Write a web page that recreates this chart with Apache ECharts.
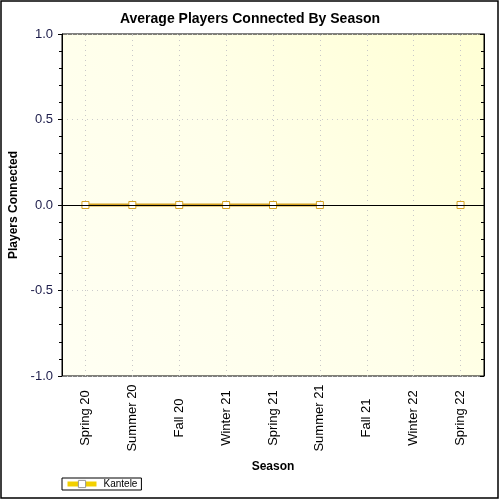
<!DOCTYPE html>
<html>
<head>
<meta charset="utf-8">
<script src="https://cdn.jsdelivr.net/npm/echarts@6/dist/echarts.min.js"></script>
<style>html,body{margin:0;padding:0;background:#fff}#c{width:500px;height:500px}</style>
</head>
<body>
<div id="c"></div>
<script>
const seasons = ['Spring 20','Summer 20','Fall 20','Winter 21','Spring 21','Summer 21','Fall 21','Winter 22','Spring 22'];
const kantele = [0, 0, 0, 0, 0, 0, null, null, 0];
const yTicks = {min: -1, max: 1, interval: 0.5};

const chart = echarts.init(document.getElementById('c'), null, {renderer: 'canvas'});
const font = 'Arial, "Liberation Sans", sans-serif';
const gold = '#D4A020';

chart.setOption({
  animation: false,
  backgroundColor: '#fff',
  title: {
    text: 'Average Players Connected By Season',
    left: 'center', top: 7,
    textStyle: {fontFamily: font, fontSize: 14, fontWeight: 'bold', color: '#000'}
  },
  graphic: [{
    type: 'rect', silent: true, z: 100,
    shape: {x: 1, y: 1, width: 497, height: 497},
    style: {fill: 'none', stroke: '#000', lineWidth: 1.5}
  }],
  legend: {
    data: [{name: 'Kantele', lineStyle: {color: '#F2D000', width: 5}, itemStyle: {color: '#fff', borderColor: '#999', borderWidth: 1}}],
    left: 62, top: 478,
    orient: 'horizontal',
    borderColor: '#000', borderWidth: 1, borderRadius: 0,
    padding: [1, 4, 1, 3],
    itemWidth: 29, itemHeight: 9, itemGap: 6,
    textStyle: {fontFamily: font, fontSize: 10, color: '#000', padding: [0, 0, 0, 2]}
  },
  grid: {
    left: 62, right: 16, top: 34, bottom: 124,
    outerBoundsMode: 'none',
    containLabel: false,
    show: true, borderColor: '#000', borderWidth: 1,
    backgroundColor: new echarts.graphic.LinearGradient(0, 1, 1, 0, [
      {offset: 0, color: '#FFFFF3'},
      {offset: 0.5, color: '#FFFFEA'},
      {offset: 1, color: '#FFFFD4'}
    ])
  },
  xAxis: {
    type: 'category',
    data: seasons,
    boundaryGap: true,
    name: 'Season',
    nameLocation: 'middle',
    nameGap: 85,
    nameTextStyle: {fontFamily: font, fontSize: 12, fontWeight: 'bold', color: '#000'},
    axisLine: {lineStyle: {color: '#000', width: 1}},
    axisTick: {alignWithLabel: true, length: 4, lineStyle: {color: '#000'}},
    axisLabel: {
      rotate: 90, align: 'center', verticalAlign: 'middle', margin: 42,
      fontFamily: font, fontSize: 13, color: '#000', interval: 0
    },
    splitLine: {show: false}
  },
  yAxis: [{
    type: 'value',
    min: yTicks.min, max: yTicks.max, interval: yTicks.interval,
    name: 'Players Connected',
    nameLocation: 'middle',
    nameGap: 40,
    nameRotate: 90,
    nameTextStyle: {fontFamily: font, fontSize: 12, fontWeight: 'bold', color: '#000'},
    axisLine: {show: true, lineStyle: {color: '#000'}},
    axisTick: {show: true, length: 4, lineStyle: {color: '#000'}},
    minorTick: {show: true, splitNumber: 5, length: 3, lineStyle: {color: '#000'}},
    axisLabel: {
      fontFamily: font, fontSize: 13, color: '#1c1c4a', margin: 9,
      formatter: v => v.toFixed(1)
    },
    splitLine: {show: true, lineStyle: {color: '#cccccc', type: [1, 4]}}
  }, {
    type: 'value',
    position: 'right',
    min: yTicks.min, max: yTicks.max, interval: yTicks.interval,
    axisLine: {show: true, lineStyle: {color: '#000'}},
    axisTick: {show: true, inside: true, length: 4, lineStyle: {color: '#000'}},
    minorTick: {show: true, splitNumber: 5, length: 3, lineStyle: {color: '#000'}},
    axisLabel: {show: false},
    splitLine: {show: false}
  }],
  series: [{
    name: 'grid-lines',
    type: 'line',
    data: seasons.map(() => null),
    z: 1,
    silent: true,
    markLine: {
      silent: true, symbol: 'none', label: {show: false}, animation: false,
      data: seasons.map(s => ({xAxis: s, lineStyle: {color: '#c8c8c8', type: [1, 4], width: 1}}))
        .concat([{yAxis: 0, lineStyle: {color: '#000', type: 'solid', width: 1}}])
    }
  }, {
    name: 'Kantele',
    type: 'line',
    data: kantele,
    z: 3,
    connectNulls: false,
    showAllSymbol: true,
    symbol: 'rect',
    symbolSize: 7,
    lineStyle: {color: gold, width: 3},
    itemStyle: {color: '#fff', borderColor: gold, borderWidth: 1}
  }]
});
</script>
</body>
</html>
